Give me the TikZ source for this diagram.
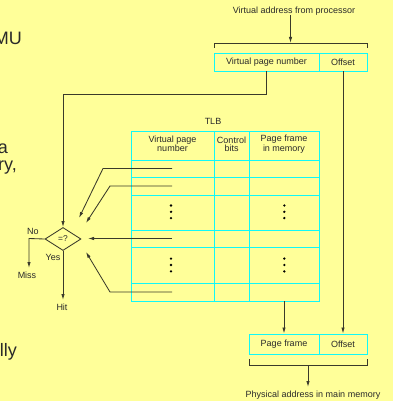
\documentclass[tikz,border=0pt]{standalone}
\usepackage{fontspec}
\setmainfont{Liberation Sans}
\usetikzlibrary{arrows.meta,shapes.geometric}
\definecolor{bg}{HTML}{FFFF99}
\definecolor{cy}{HTML}{11F8F8}
\definecolor{ln}{HTML}{3A3A2A}
\definecolor{tx}{HTML}{2A2A2A}
\begin{document}
\begin{tikzpicture}[x=1pt,y=-1pt,
  lbl/.style={font=\fontsize{9}{7.8}\selectfont, inner sep=0pt, align=center, text=tx},
  big/.style={font=\fontsize{18}{18}\selectfont, inner sep=0pt, anchor=base east, text=tx},
  wire/.style={draw=ln, line width=0.85pt},
  arr/.style={wire, -{Latex[length=6pt,width=3.4pt]}},
  field/.style={draw=cy, line width=0.9pt, fill=bg, inner sep=0pt, font=\fontsize{9}{9}\selectfont, text=tx},
  grid/.style={draw=cy, line width=0.9pt},
  dot/.style={fill=black, circle, inner sep=0pt, minimum size=2.6pt}]
\useasboundingbox (0,0) rectangle (393,401);
\clip (0,0) rectangle (393,401);
\fill[bg] (0,0) rectangle (393,401);

% cut-off slide text on the left
\node[big] (t1) at (22,45) {MU};
\node[big] (t2) at (8,153.5) {a};
\node[big] (t3) at (17,170) {ry,};
\node[big] (t4) at (17,356) {lly};

% virtual address
\node[lbl] (va) at (294,11) {Virtual address from processor};
\node[field, minimum width=105pt, minimum height=18pt] (vpn) at (266.5,62) {Virtual page number};
\node[field, minimum width=48pt, minimum height=18pt] (off) at (343,62) {Offset};
\coordinate (brc) at (290.5,43);
\draw[wire] (214,48) -- (214,43) -- (367,43) -- (367,48);
\draw[arr] (va.south -| brc) -- (brc);

% TLB
\node[lbl] (tlb) at (213,121) {TLB};
\draw[grid] (131,131) rectangle (319,301);
\foreach \y in {160,177,195,230,247,283} \draw[grid] (131,\y) -- (319,\y);
\foreach \x in {214,249} \draw[grid] (\x,131) -- (\x,301);
\node[lbl] (h1) at (172.5,144) {Virtual page\\number};
\node[lbl] (h2) at (231.5,144) {Control\\bits};
\node[lbl] (h3) at (284,144) {Page frame\\in memory};
\foreach \x in {171,284.3} {
  \foreach \y in {205.5,211.8,218.1,258.6,265,271.4} \node[dot] at (\x,\y) {};
}
\coordinate (r1) at (172,168.5);
\coordinate (r2) at (172,186);
\coordinate (r4) at (172,238.5);
\coordinate (r6) at (172,292);
\coordinate (pfcol) at (284,301);

% comparator
\node[diamond, draw=ln, line width=0.85pt, minimum width=36pt, minimum height=23pt, inner sep=0pt, font=\fontsize{8.4}{9}\selectfont, text=tx] (eq) at (63,239) {=?};
\coordinate (c0) at (63,94);
\draw[arr] (vpn.south) |- (c0) -- (eq.north);
\coordinate (a1) at (79,218);
\coordinate (a2) at (86,223);
\coordinate (a4) at (88,238.5);
\coordinate (a6) at (86,252);
\draw[arr] (r1) -- (103,168.5) -- (a1);
\draw[arr] (r2) -- (110,186) -- (a2);
\draw[arr] (r4) -- (a4);
\draw[arr] (r6) -- (110,292) -- (a6);

\node[lbl] (no) at (33,231.5) {No};
\node[lbl] (yes) at (53,257) {Yes};
\node[lbl] (miss) at (27,275.5) {Miss};
\node[lbl] (hit) at (62,307) {Hit};
\coordinate (nc) at (29,238.5);
\coordinate (mt) at (29,268);
\coordinate (ht) at (63,300);
\draw[arr] (eq.west) -- (nc) -- (mt);
\draw[arr] (eq.south) -- (ht);

% physical address
\node[field, minimum width=70pt, minimum height=20pt] (pf) at (284,344) {Page frame};
\node[field, minimum width=48pt, minimum height=20pt] (off2) at (343,344) {Offset};
\draw[arr] (pfcol) -- (pf.north);
\draw[arr] (off.south) -- (off2.north);
\draw[wire] (249,359) -- (249,365) -- (367,365) -- (367,359);
\coordinate (bbc) at (308,365);
\node[lbl] (pa) at (313,395) {Physical address in main memory};
\draw[arr] (bbc) -- (bbc |- 0,387);
\end{tikzpicture}
\end{document}
